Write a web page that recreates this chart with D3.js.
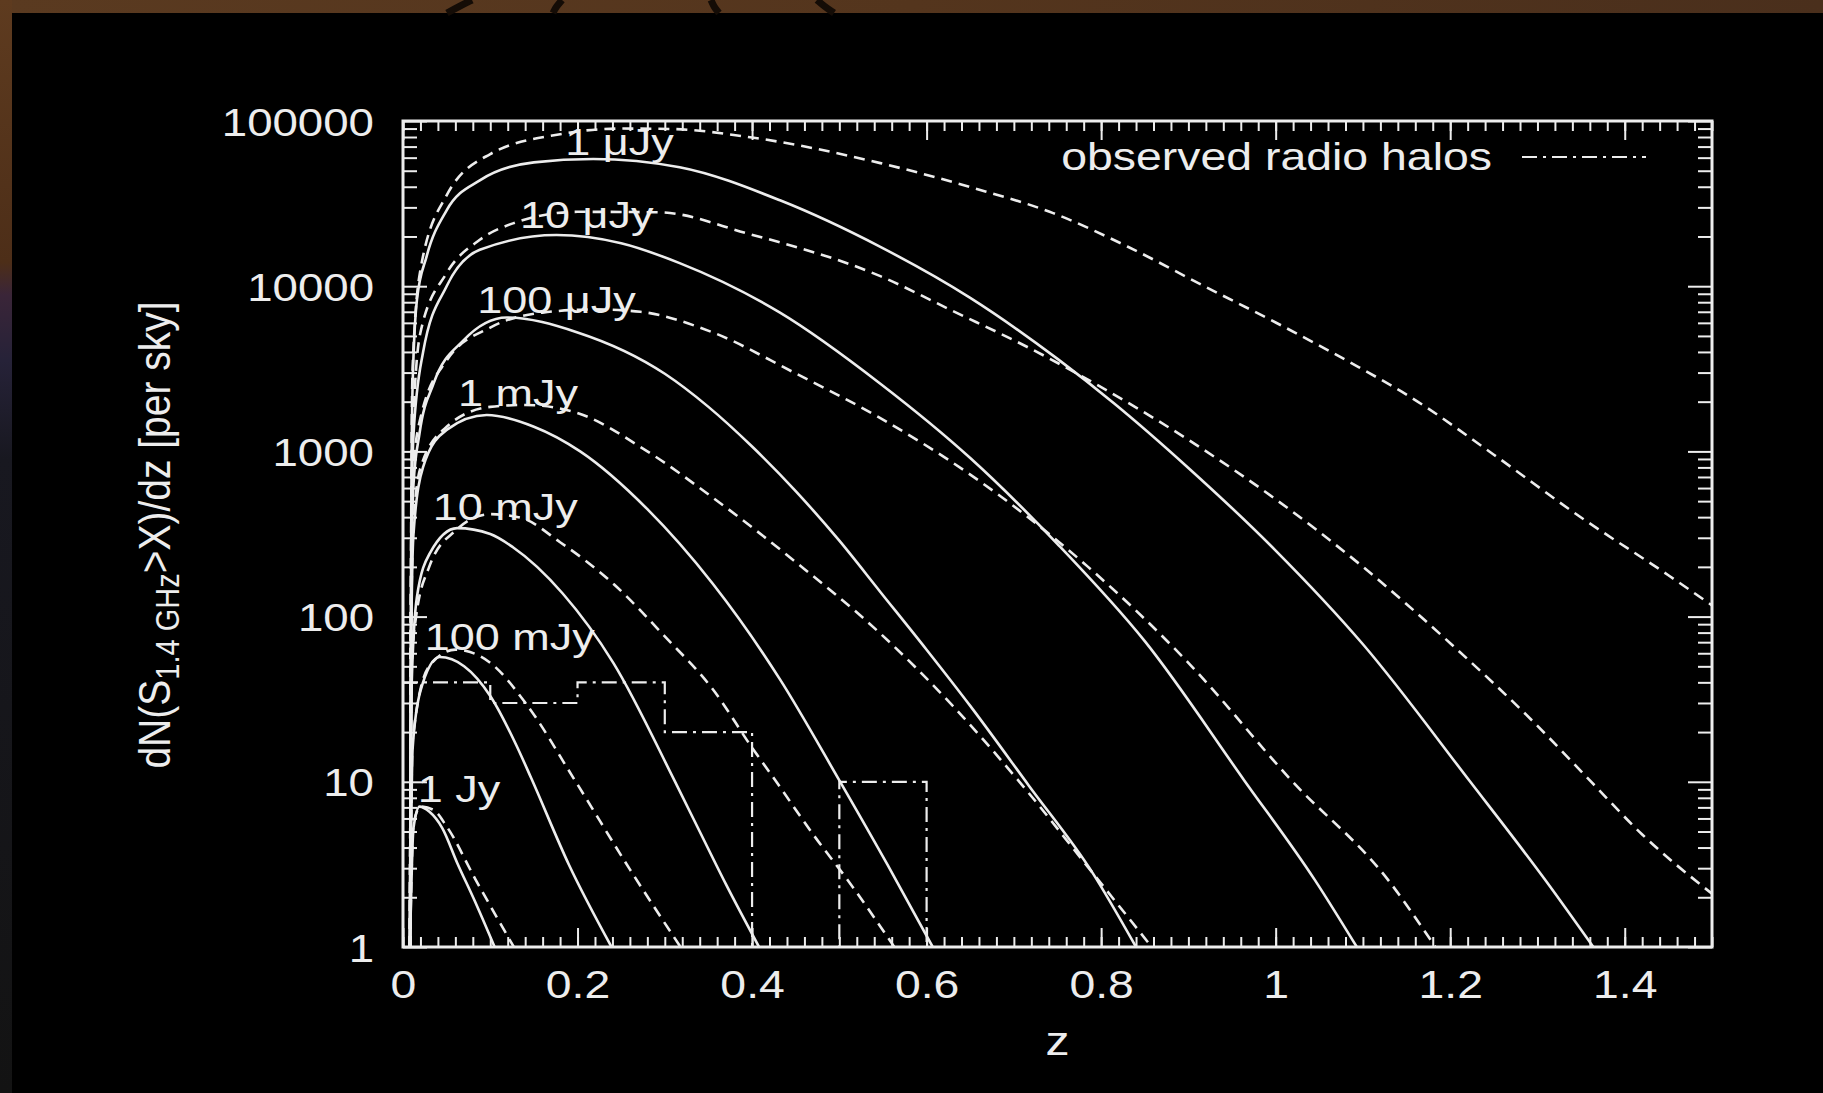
<!DOCTYPE html>
<html>
<head>
<meta charset="utf-8">
<script src="https://cdn.jsdelivr.net/npm/d3@7"></script>
<style>
  html, body { margin: 0; padding: 0; background: #000; }
  svg { display: block; }
</style>
</head>
<body>
<script>
// Redshift samples (z) and dN/dz values for each flux threshold.
// "S" = solid model curve, "D" = dashed model curve.
const z1uJyS = [0.008,0.0095,0.011,0.016,0.027,0.05,0.088,0.15,0.218,0.317,0.432,0.547,0.65,0.75,0.815,0.9,1.0,1.1,1.223,1.31,1.364];
const n1uJyS = [1,400,2500,8300,15100,28800,43700,56200,58900,52500,33100,17300,8500,3630,1950,794,251,68,10,2.5,1];
const z1uJyD = [0.008,0.0095,0.011,0.02,0.05,0.1,0.18,0.25,0.306,0.4,0.547,0.65,0.745,0.83,0.92,1.0,1.095,1.154,1.25,1.35,1.45,1.5];
const n1uJyD = [1,500,3160,12600,35500,63100,83200,90000,89500,79400,55600,39800,27700,17400,9890,6030,3240,2140,955,398,178,117];

const z10uJyS = [0.008,0.0095,0.012,0.023,0.05,0.088,0.176,0.25,0.317,0.432,0.547,0.65,0.75,0.85,0.964,1.045,1.093];
const n10uJyS = [1,251,1260,3980,10000,16600,20400,18200,13800,6920,2570,912,275,71,10.2,2.54,1];
const z10uJyD = [0.008,0.0095,0.012,0.02,0.05,0.088,0.126,0.2,0.294,0.394,0.547,0.63,0.716,0.8,0.9,1.0,1.1,1.2,1.3,1.36,1.42,1.5];
const n10uJyD = [1,316,1590,5250,12000,19100,24000,28200,28000,20900,11500,7080,4270,2450,1175,513,200,69,21.8,10.2,4.8,2.1];

const z100uJyS = [0.008,0.0095,0.012,0.019,0.035,0.069,0.119,0.2,0.3,0.35,0.4,0.45,0.5,0.547,0.6,0.65,0.717,0.79,0.84];
const n100uJyS = [1,158,631,1290,2570,4680,6460,5250,2950,1860,1070,575,288,141,63,28.8,9.5,2.82,1];
const z100uJyD = [0.008,0.0095,0.012,0.02,0.05,0.1,0.16,0.22,0.272,0.355,0.447,0.547,0.65,0.785,0.9,1.018,1.129,1.183];
const n100uJyD = [1,200,794,1590,3550,5620,6920,7240,7000,5250,3020,1590,724,200,52.5,10.2,2.54,1];

const z1mJyS = [0.008,0.0095,0.012,0.023,0.05,0.096,0.15,0.203,0.28,0.355,0.432,0.5,0.555,0.607];
const n1mJyS = [1,79,316,804,1350,1660,1410,1000,447,158,41.7,10.2,3.16,1];
const z1mJyD = [0.008,0.0095,0.012,0.02,0.05,0.1,0.14,0.195,0.28,0.355,0.45,0.547,0.63,0.705,0.79,0.858];
const n1mJyD = [1,100,355,794,1410,1860,1910,1740,1000,525,214,79,28.8,10.2,2.82,1];

const z10mJyS = [0.008,0.01,0.016,0.031,0.062,0.1,0.126,0.183,0.241,0.311,0.34,0.37,0.408];
const n10mJyS = [1,39.8,132,243,343,316,263,138,52.5,10.2,5.0,2.4,1];
const z10mJyD = [0.008,0.01,0.015,0.03,0.06,0.1,0.134,0.18,0.241,0.3,0.355,0.401,0.425,0.47,0.513,0.563];
const n10mJyD = [1,50,100,200,331,417,398,282,158,75.9,36.3,15.8,10.5,4.8,2.4,1];

const z100mJyS = [0.008,0.011,0.02,0.042,0.07,0.1,0.13,0.147,0.19,0.239];
const n100mJyS = [1,15.8,35.5,56.9,50.1,33.1,16.6,10.5,3.16,1];
const z100mJyD = [0.008,0.011,0.03,0.06,0.1,0.14,0.197,0.26,0.318];
const n100mJyD = [1,17.8,50.1,63.1,52.5,30.2,10.2,2.95,1];

const z1JyS = [0.008,0.012,0.019,0.03,0.045,0.062,0.082,0.105];
const n1JyS = [1,5.25,7.08,6.61,5.25,3.24,1.91,1];
const z1JyD = [0.008,0.012,0.02,0.035,0.05,0.083,0.127];
const n1JyD = [1,5.5,7.08,6.76,5.37,2.57,1];

// Observed radio halo counts per redshift bin
const haloBinEdges = [0,0.1,0.2,0.3,0.4,0.5,0.6];
const haloCounts   = [40,30,40,20,0,10];

// Curve labels (flux thresholds) and where they sit: [z, dN/dz at baseline]
const fluxLabels = ["1 μJy","10 μJy","100 μJy","1 mJy","10 mJy","100 mJy","1 Jy"];
const fluxLabelZ = [0.186,0.134,0.085,0.063,0.034,0.025,0.017];
const fluxLabelN = [62200,22500,6890,1880,384,62.8,7.55];

// Axis ticks
const xTicks = [0,0.2,0.4,0.6,0.8,1.0,1.2,1.4];
const xTickLabels = ["0","0.2","0.4","0.6","0.8","1","1.2","1.4"];
const yTicks = [1,10,100,1000,10000,100000];
const yTickLabels = ["1","10","100","1000","10000","100000"];

const legendLabel = "observed radio halos";
const xTitle = "z";

// ------------------------------------------------------------------
const W = 1823, H = 1093;
const plot = { left: 403, right: 1712, top: 121, bottom: 947 };
const FONT = "'Liberation Sans', Arial, Helvetica, sans-serif";
const INK = "#ededed";
const SX = 1.2;   // horizontal text stretch

const svg = d3.select("body").append("svg")
  .attr("width", W).attr("height", H)
  .attr("viewBox", `0 0 ${W} ${H}`);

// Room around the slide: brown strip along the top, shaded strip at the left
const defs = svg.append("defs");
const lg = defs.append("linearGradient").attr("id", "edge").attr("x1", 0).attr("y1", 0).attr("x2", 0).attr("y2", 1);
[[0, "#5e3b1f"], [0.24, "#4d2e18"], [0.27, "#3a2538"], [0.33, "#262238"], [0.42, "#181820"], [1, "#131313"]]
  .forEach(([o, c]) => lg.append("stop").attr("offset", o).attr("stop-color", c));
const tg = defs.append("linearGradient").attr("id", "topband").attr("x1", 0).attr("y1", 0).attr("x2", 1).attr("y2", 0);
[[0, "#5a3a20"], [0.5, "#54351d"], [1, "#4a2f1c"]]
  .forEach(([o, c]) => tg.append("stop").attr("offset", o).attr("stop-color", c));

svg.append("rect").attr("width", W).attr("height", H).attr("fill", "#000");
svg.append("rect").attr("x", 0).attr("y", 0).attr("width", W).attr("height", 13).attr("fill", "url(#topband)");
svg.append("rect").attr("x", 0).attr("y", 0).attr("width", 12).attr("height", H).attr("fill", "url(#edge)");
// dark wire shapes hanging into the top strip
const wires = [[[472,0],[458,7],[447,13]], [[562,0],[556,7],[553,13]], [[711,0],[714,7],[719,13]], [[817,0],[825,7],[834,13]]];
wires.forEach(w => svg.append("path")
  .attr("d", d3.line().curve(d3.curveBasis)(w))
  .attr("fill", "none").attr("stroke", "#140c06").attr("stroke-width", 7));

// Scales
const x = d3.scaleLinear().domain([0, 1.5]).range([plot.left, plot.right]);
const y = d3.scaleLog().domain([1, 1e5]).range([plot.bottom, plot.top]);

defs.append("clipPath").attr("id", "plotclip")
  .append("rect").attr("x", plot.left).attr("y", plot.top)
  .attr("width", plot.right - plot.left).attr("height", plot.bottom - plot.top);

// Series assembled from the arrays above
const seriesDefs = [
  [z1uJyS, n1uJyS, "solid"], [z1uJyD, n1uJyD, "dashed"],
  [z10uJyS, n10uJyS, "solid"], [z10uJyD, n10uJyD, "dashed"],
  [z100uJyS, n100uJyS, "solid"], [z100uJyD, n100uJyD, "dashed"],
  [z1mJyS, n1mJyS, "solid"], [z1mJyD, n1mJyD, "dashed"],
  [z10mJyS, n10mJyS, "solid"], [z10mJyD, n10mJyD, "dashed"],
  [z100mJyS, n100mJyS, "solid"], [z100mJyD, n100mJyD, "dashed"],
  [z1JyS, n1JyS, "solid"], [z1JyD, n1JyD, "dashed"]
];
const series = seriesDefs.map(([zs, ns, style]) => ({
  style, points: zs.map((z, i) => ({ z, n: ns[i] }))
}));

const line = d3.line().x(d => x(d.z)).y(d => y(d.n)).curve(d3.curveMonotoneX);

const plotG = svg.append("g").attr("clip-path", "url(#plotclip)");

plotG.selectAll("path.model").data(series).join("path")
  .attr("class", "model")
  .attr("d", d => line(d.points))
  .attr("fill", "none")
  .attr("stroke", INK)
  .attr("stroke-width", 2.6)
  .attr("stroke-dasharray", d => d.style === "dashed" ? "11,7" : null)
  .attr("stroke-linejoin", "round");

// Observed halo histogram (step line); empty bins sit on the axis floor
const histPts = haloCounts.map((c, i) => ({ z: haloBinEdges[i], n: Math.max(c, 1) }));
histPts.push({ z: haloBinEdges[haloBinEdges.length - 1], n: 1 });
const stepLine = d3.line().x(d => x(d.z)).y(d => y(d.n)).curve(d3.curveStepAfter);
const DASHDOT = "15,6,3,6";
plotG.append("path")
  .attr("d", stepLine(histPts))
  .attr("fill", "none").attr("stroke", INK).attr("stroke-width", 2.2)
  .attr("stroke-dasharray", DASHDOT);

// Flux threshold labels
svg.append("g").selectAll("text").data(fluxLabels).join("text")
  .attr("transform", (d, i) => `translate(${x(fluxLabelZ[i])},${y(fluxLabelN[i])}) scale(1.25,1)`)
  .attr("font-family", FONT).attr("font-size", 36).attr("fill", INK)
  .text(d => d);

// Ticks: minor and major, mirrored on all four sides, pointing inward
const xMinor = d3.range(0, 76).map(i => +(i * 0.02).toFixed(2));
const yMinor = [];
[1, 10, 100, 1000, 10000].forEach(dec => { for (let m = 2; m <= 9; m++) yMinor.push(m * dec); });

function tickAxis(axisFn, scale, values, size, transform) {
  const g = svg.append("g").attr("transform", transform)
    .call(axisFn(scale).tickValues(values).tickSize(-size).tickFormat(""));
  g.select(".domain").remove();
  g.selectAll("line").attr("stroke", INK).attr("stroke-width", 2);
  return g;
}
tickAxis(d3.axisBottom, x, xMinor, 10, `translate(0,${plot.bottom})`);
tickAxis(d3.axisBottom, x, xTicks, 19, `translate(0,${plot.bottom})`);
tickAxis(d3.axisTop, x, xMinor, 10, `translate(0,${plot.top})`);
tickAxis(d3.axisTop, x, xTicks, 19, `translate(0,${plot.top})`);
tickAxis(d3.axisLeft, y, yMinor, 14, `translate(${plot.left},0)`);
tickAxis(d3.axisLeft, y, yTicks, 24, `translate(${plot.left},0)`);
tickAxis(d3.axisRight, y, yMinor, 14, `translate(${plot.right},0)`);
tickAxis(d3.axisRight, y, yTicks, 24, `translate(${plot.right},0)`);

// Frame
svg.append("rect")
  .attr("x", plot.left).attr("y", plot.top)
  .attr("width", plot.right - plot.left).attr("height", plot.bottom - plot.top)
  .attr("fill", "none").attr("stroke", INK).attr("stroke-width", 3);

// Tick labels
const xLab = svg.append("g").attr("transform", `translate(0,${plot.bottom})`)
  .call(d3.axisBottom(x).tickValues(xTicks).tickSize(0).tickFormat((d, i) => xTickLabels[i]));
xLab.select(".domain").remove();
xLab.selectAll("text")
  .attr("y", 51).attr("dy", 0)
  .attr("transform", "scale(1.22,1)")
  .attr("font-family", FONT).attr("font-size", 38).attr("fill", INK);

const yLab = svg.append("g").attr("transform", `translate(${plot.left},0)`)
  .call(d3.axisLeft(y).tickValues(yTicks).tickSize(0).tickFormat((d, i) => yTickLabels[i]));
yLab.select(".domain").remove();
yLab.selectAll("text")
  .attr("x", -29 / 1.17).attr("dy", 0).attr("y", 14)
  .attr("transform", "scale(1.17,1)")
  .attr("font-family", FONT).attr("font-size", 39).attr("fill", INK);

// Axis titles
svg.append("text")
  .attr("transform", `translate(${(plot.left + plot.right) / 2},1055) scale(${SX},1)`)
  .attr("text-anchor", "middle")
  .attr("font-family", FONT).attr("font-size", 40).attr("fill", INK)
  .text(xTitle);

const yt = svg.append("text")
  .attr("transform", "translate(170,535) rotate(-90) scale(1,1.15)")
  .attr("text-anchor", "middle")
  .attr("font-family", FONT).attr("font-size", 39).attr("fill", INK);
yt.append("tspan").text("dN(S");
yt.append("tspan").attr("font-size", 29).attr("dy", 8).text("1.4 GHz");
yt.append("tspan").attr("dy", -8).text(">X)/dz [per sky]");

// Legend
svg.append("text")
  .attr("transform", `translate(1492,170) scale(1.19,1)`)
  .attr("text-anchor", "end")
  .attr("font-family", FONT).attr("font-size", 39).attr("fill", INK)
  .text(legendLabel);
svg.append("line")
  .attr("x1", 1522).attr("x2", 1646).attr("y1", 157).attr("y2", 157)
  .attr("stroke", INK).attr("stroke-width", 2.2)
  .attr("stroke-dasharray", DASHDOT);
</script>
</body>
</html>
